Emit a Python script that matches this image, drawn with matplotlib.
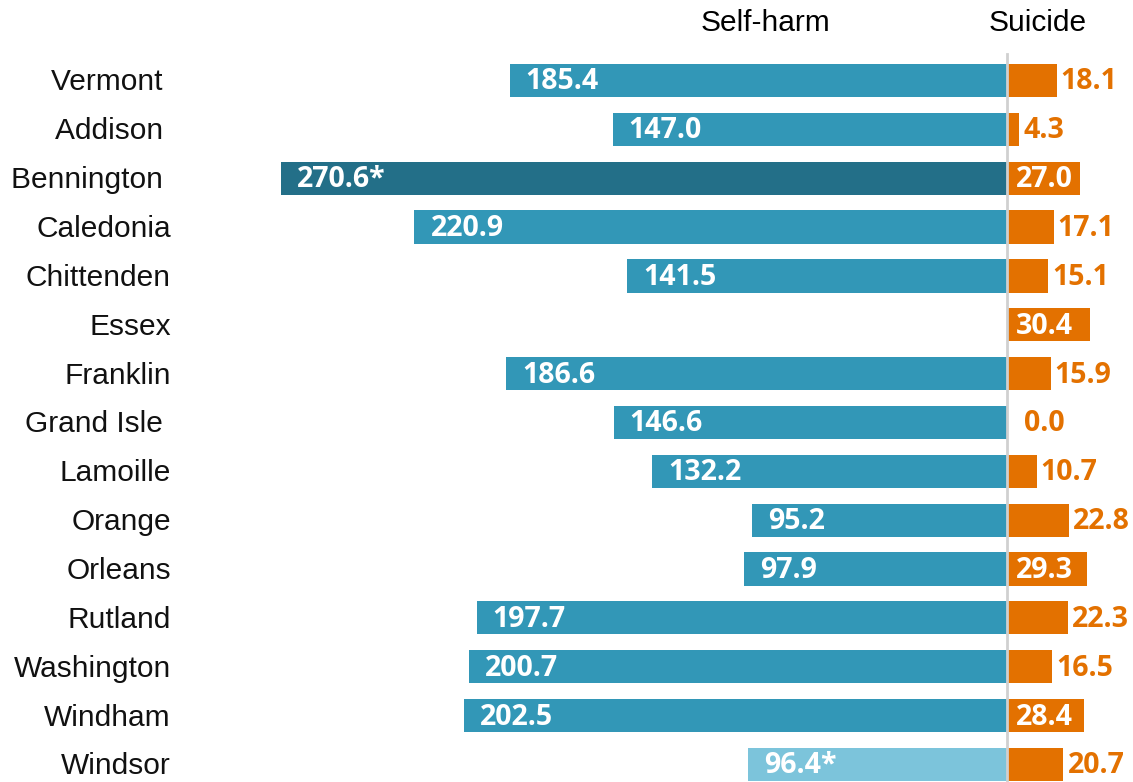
import matplotlib.pyplot as plt
import numpy as np

counties = ["Vermont ", "Addison ", "Bennington ", "Caledonia", "Chittenden", "Essex",
            "Franklin", "Grand Isle ", "Lamoille", "Orange", "Orleans", "Rutland",
            "Washington", "Windham", "Windsor"]
self_harm = [185.4, 147.0, 270.6, 220.9, 141.5, np.nan, 186.6, 146.6, 132.2,
             95.2, 97.9, 197.7, 200.7, 202.5, 96.4]
self_harm_labels = ["185.4", "147.0", "270.6*", "220.9", "141.5", "", "186.6", "146.6",
                    "132.2", "95.2", "97.9", "197.7", "200.7", "202.5", "96.4*"]
suicide = [18.1, 4.3, 27.0, 17.1, 15.1, 30.4, 15.9, 0.0, 10.7, 22.8, 29.3, 22.3,
           16.5, 28.4, 20.7]

teal = "#3297b7"
teal_dark = "#236f88"
teal_light = "#7cc4db"
orange = "#e37100"

sh_colors = [teal] * len(counties)
sh_colors[2] = teal_dark
sh_colors[14] = teal_light

# pixel layout: zero at x=1007, 2.683 px per unit
W, H = 1133, 782
ppu = 2.683
x0 = 1007
ax_left = 180
fig = plt.figure(figsize=(W / 100, H / 100), dpi=100)
ax = fig.add_axes([ax_left / W, 0, 1 - ax_left / W, 1])
ax.set_xlim((ax_left - x0) / ppu, (W - x0) / ppu)
row0, step = 80.5, 48.85
ax.set_ylim((H - row0) / step, -row0 / step)
ax.axis("off")

y = np.arange(len(counties))
ax.barh(y, -np.array(self_harm), height=0.68, color=sh_colors, left=0)
ax.barh(y, suicide, height=0.68, color=orange, left=0.35)

lab_font = dict(family="Open Sans", weight="bold", fontsize=20.5)
for i in range(len(counties)):
    if not np.isnan(self_harm[i]):
        ax.text(-self_harm[i] + 6, i + 0.03, self_harm_labels[i], color="white",
                ha="left", va="center", **lab_font)
    v = suicide[i]
    if v >= 25:
        ax.text(0.35 + 3, i + 0.03, f"{v:.1f}", color="white", ha="left",
                va="center", **lab_font)
    else:
        gap = 1.5 if v > 0 else 6
        ax.text(0.35 + v + gap, i + 0.03, f"{v:.1f}", color=orange, ha="left",
                va="center", **lab_font)

ax.plot([0, 0], [-0.55, 14.6], color="#d0d0d0", lw=2, zorder=3)

name_x = (171 - x0) / ppu
for i, name in enumerate(counties):
    ax.text(name_x, i + 0.04, name, ha="right", va="center", fontsize=21.5,
            family="Liberation Sans", color="#111111")

ax.text((765 - x0) / ppu, -1.18, "Self-harm", ha="center", va="center",
        fontsize=21.5, family="Liberation Sans")
ax.text((1038 - x0) / ppu, -1.18, "Suicide", ha="center", va="center",
        fontsize=21.5, family="Liberation Sans")

fig.savefig("out.png", dpi=100)
